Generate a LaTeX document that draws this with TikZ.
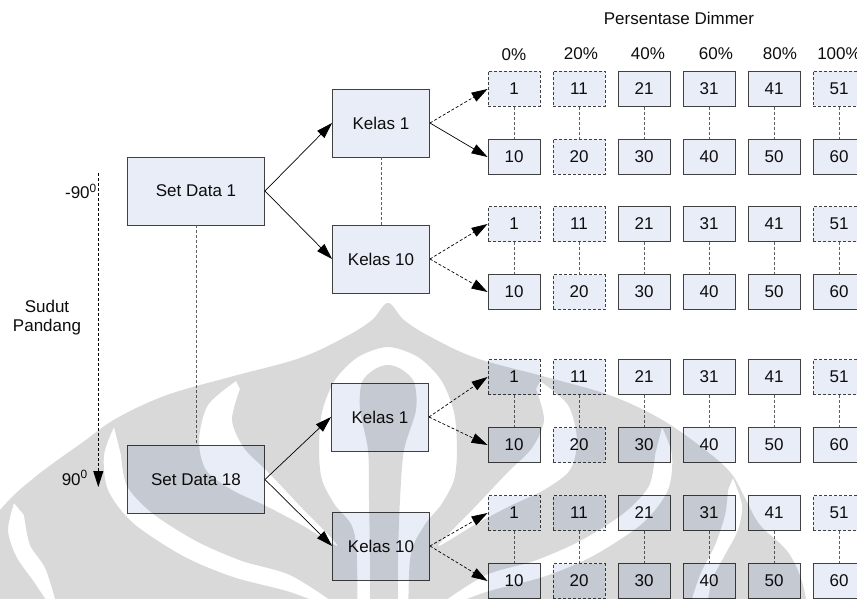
\documentclass[tikz,border=0pt]{standalone}
\usepackage{fontspec}
\setmainfont{Liberation Sans}
\usetikzlibrary{arrows.meta}
\definecolor{cellfill}{RGB}{232,237,247}
\definecolor{cellline}{RGB}{64,64,64}
\definecolor{linkgrey}{RGB}{96,96,96}
\begin{document}
\begin{tikzpicture}[x=1pt,y=-1pt,
  labeltext/.style={font=\fontsize{17}{19}\selectfont, text=black!95, inner sep=0pt},
  box/.style={labeltext, draw=cellline, fill=cellfill, line width=0.9pt},
  cell/.style={box, minimum width=52pt, minimum height=35pt},
  opencell/.style={cell, dash pattern=on 3pt off 2pt},
  setbox/.style={box, minimum width=137pt, minimum height=68pt},
  classbox/.style={box, minimum width=97pt, minimum height=68pt},
  tip/.style={-{Triangle[length=16pt,width=10pt]}, line width=0.7pt, black},
  dashedtip/.style={tip, dash pattern=on 3pt off 2pt},
  link/.style={draw=linkgrey, line width=0.9pt, dash pattern=on 3pt off 2pt},
]
\useasboundingbox (0,0) rectangle (857,599);
\clip (0,0) rectangle (857,599);
\fill[white] (0,0) rectangle (857,599);

% headings
\node[labeltext, anchor=base] (dimmer) at (679,25) {Persentase Dimmer};
\foreach \p/\x/\b in {0/514/61, 20/581/59.3, 40/648/59.3, 60/716/59.3, 80/780/59.3, 100/839/59.3}
  \node[labeltext, anchor=base] (pct\p) at (\x,\b) {\p\%};

% viewing-angle axis
\coordinate (axtop) at (98.3,173);
\coordinate (axend) at (98.3,487);
\draw[dashedtip, line width=0.8pt] (axtop) -- (axend);
\node[labeltext, anchor=base east] (angtop) at (97,198.5) {-90\textsuperscript{0}};
\node[labeltext, anchor=base east] (angbot) at (88,485) {90\textsuperscript{0}};
\node[labeltext, align=center] (sudut) at (47,318) {Sudut\\Pandang};

% data sets and classes
\node[setbox] (sd1) at (196,191) {Set Data 1};
\node[setbox] (sd18) at (196,479.5) {Set Data 18};
\node[classbox] (ka1) at (381,123) {Kelas 1};
\node[classbox] (ka10) at (381,259) {Kelas 10};
\node[classbox] (kb1) at (380,417) {Kelas 1};
\node[classbox] (kb10) at (381,546) {Kelas 10};

\draw[link] (sd1.south) -- (sd18.north);
\draw[link] (ka1.south) -- (ka10.north);
\draw[tip] (sd1.east) -- (ka1.west);
\draw[tip] (sd1.east) -- (ka10.west);
\draw[tip] (sd18.east) -- (kb1.west);
\draw[tip] (sd18.east) -- (kb10.west);

% dimmer cells: upper value row and lower value row per class
\foreach \g/\yt/\yb in {ka1/89/157, ka10/224/292, kb1/377/445, kb10/513/581} {
  \foreach \i/\x/\ts/\bs in {0/514/opencell/cell, 1/579/opencell/opencell, 2/644/cell/cell,
                             3/709/cell/cell, 4/774/cell/cell, 5/839/opencell/cell} {
    \pgfmathtruncatemacro\topnum{10*\i+1}
    \pgfmathtruncatemacro\botnum{10*\i+10}
    \node[\ts] (\g-t\i) at (\x,\yt) {\topnum};
    \node[\bs] (\g-b\i) at (\x,\yb) {\botnum};
    \draw[link] (\g-t\i.south) -- (\g-b\i.north);
  }
}

\draw[dashedtip] (ka1.east) -- (ka1-t0.west);
\draw[tip] (ka1.east) -- (ka1-b0.west);
\draw[dashedtip] (ka10.east) -- (ka10-t0.west);
\draw[dashedtip] (ka10.east) -- (ka10-b0.west);
\draw[dashedtip] (kb1.east) -- (kb1-t0.west);
\draw[dashedtip] (kb1.east) -- (kb1-b0.west);
\draw[dashedtip] (kb10.east) -- (kb10-t0.west);
\draw[dashedtip] (kb10.east) -- (kb10-b0.west);

% faint emblem laid over the lower half
\fill[black, fill opacity=0.15, even odd rule]
  plot[smooth, tension=0.6] coordinates {(-60,660) (-45,570) (0,510) (35,477) (83,442) (117,418)
    (167,395) (230,377) (300,358) (347,336) (372,320) (388,303) (404,320) (429,336) (476,358)
    (546,377) (609,395) (659,418) (700,446) (730,472) (745,498) (760,525) (790,555) (806,599)
    (808,660)} -- cycle
  plot[smooth] coordinates {(357,660) (357,560) (352,526) (335,505) (322,480) (319,450) (322,412)
    (335,380) (358,357) (388,347) (418,357) (441,380) (454,412) (457,450) (454,480) (441,505)
    (424,526) (410,560) (408,660)} -- cycle
  plot[smooth] coordinates {(370,650) (370,560) (369,500) (368,450) (360,410) (362,382) (375,369)
    (388,365) (401,369) (414,382) (416,410) (404,450) (400,500) (398,560) (398,650)} -- cycle
  plot[smooth] coordinates {(236,381) (208,405) (199,440) (206,470) (232,490) (266,506) (300,524)
    (338,546) (302,508) (268,472) (244,448) (232,420) (240,389)} -- cycle
  plot[smooth] coordinates {(540,381) (568,405) (577,440) (570,470) (544,490) (510,506) (476,524)
    (438,546) (474,508) (508,472) (532,448) (544,420) (536,389)} -- cycle
  plot[smooth] coordinates {(114,427) (104,455) (108,490) (133,523) (183,556) (233,577) (290,592)
    (345,612) (292,576) (242,561) (196,541) (152,513) (127,486) (121,455)} -- cycle
  plot[smooth] coordinates {(662,427) (672,455) (668,490) (643,523) (593,556) (543,577) (486,592)
    (431,612) (484,576) (534,561) (580,541) (624,513) (649,486) (655,455)} -- cycle
  plot[smooth] coordinates {(14,503) (8,530) (16,556) (34,582) (58,615) (46,570) (30,545) (24,515)} -- cycle
  plot[smooth] coordinates {(733,478) (742,505) (738,530) (725,555) (712,580) (705,610) (690,610)
    (700,575) (715,545) (725,515) (728,490)} -- cycle;
\end{tikzpicture}
\end{document}
